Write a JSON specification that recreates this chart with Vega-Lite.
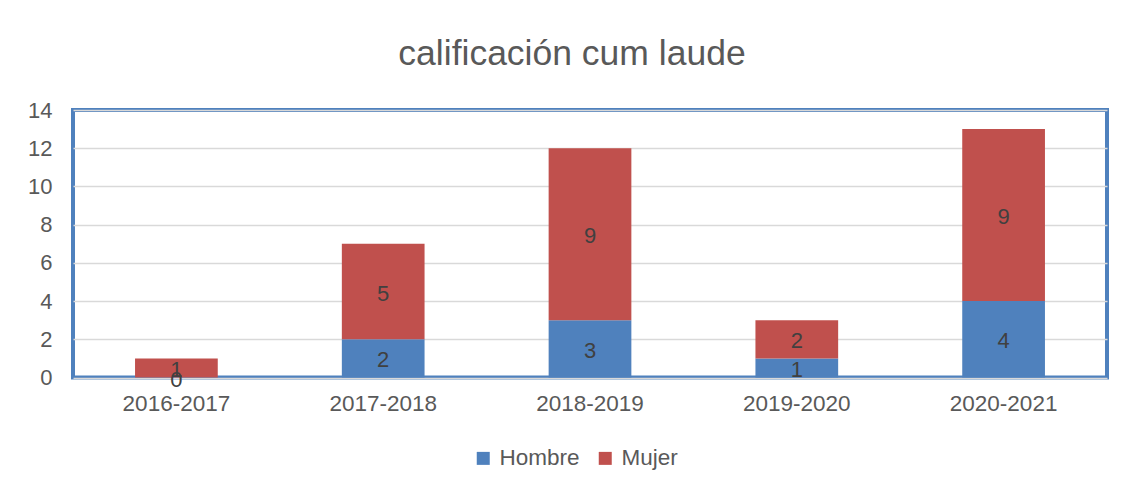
{
  "$schema": "https://vega.github.io/schema/vega-lite/v6.json",
  "autosize": "none",
  "width": 1034,
  "height": 267.5,
  "padding": {"left": 73, "top": 110, "right": 14, "bottom": 108},
  "background": "white",
  "title": {
    "text": "calificación cum laude",
    "font": "Liberation Sans",
    "fontSize": 35.5,
    "fontWeight": "normal",
    "color": "#595959",
    "anchor": "middle",
    "dx": -18,
    "offset": 27
  },
  "config": {
    "font": "Liberation Sans",
    "view": {"stroke": "#4F81BD", "strokeWidth": 4}
  },
  "data": {
    "values": [
      {"year": "2016-2017", "sex": "Hombre", "value": 0},
      {"year": "2016-2017", "sex": "Mujer", "value": 1},
      {"year": "2017-2018", "sex": "Hombre", "value": 2},
      {"year": "2017-2018", "sex": "Mujer", "value": 5},
      {"year": "2018-2019", "sex": "Hombre", "value": 3},
      {"year": "2018-2019", "sex": "Mujer", "value": 9},
      {"year": "2019-2020", "sex": "Hombre", "value": 1},
      {"year": "2019-2020", "sex": "Mujer", "value": 2},
      {"year": "2020-2021", "sex": "Hombre", "value": 4},
      {"year": "2020-2021", "sex": "Mujer", "value": 9}
    ]
  },
  "encoding": {
    "x": {
      "field": "year",
      "type": "nominal",
      "scale": {"paddingInner": 0.6, "paddingOuter": 0.3},
      "axis": {
        "title": null,
        "labelAngle": 0,
        "labelFontSize": 22.5,
        "labelColor": "#595959",
        "labelPadding": 15,
        "labelOverlap": false,
        "ticks": false,
        "domain": false
      }
    }
  },
  "layer": [
    {
      "mark": {"type": "bar"},
      "encoding": {
        "y": {
          "field": "value",
          "type": "quantitative",
          "aggregate": "sum",
          "stack": "zero",
          "scale": {"domain": [0, 14], "nice": false},
          "axis": {
            "title": null,
            "values": [0, 2, 4, 6, 8, 10, 12, 14],
            "tickCount": 8,
            "labelFontSize": 22,
            "labelColor": "#595959",
            "labelPadding": 21,
            "labelOverlap": false,
            "ticks": false,
            "domain": false,
            "gridColor": "#D9D9D9",
            "gridWidth": 1.5
          }
        },
        "color": {
          "field": "sex",
          "type": "nominal",
          "scale": {"domain": ["Hombre", "Mujer"], "range": ["#4F81BD", "#C0504D"]},
          "legend": {
            "title": null,
            "orient": "none",
            "direction": "horizontal",
            "legendX": 399,
            "legendY": 337,
            "symbolType": "square",
            "symbolSize": 169,
            "symbolStrokeWidth": 0,
            "labelFontSize": 22.5,
            "labelColor": "#595959",
            "labelOffset": 5,
            "columnPadding": 14
          }
        },
        "order": {"field": "sex", "type": "nominal", "sort": "ascending"}
      }
    },
    {
      "transform": [
        {"stack": "value", "groupby": ["year"], "sort": [{"field": "sex", "order": "ascending"}], "as": ["y0", "y1"]},
        {"fold": ["y0", "y1"], "as": ["k", "pos"]},
        {"aggregate": [{"op": "mean", "field": "pos", "as": "mid"}, {"op": "max", "field": "value", "as": "value"}], "groupby": ["year", "sex"]}
      ],
      "mark": {"type": "text", "fontSize": 22, "color": "#404040", "baseline": "middle", "dy": 2},
      "encoding": {
        "y": {
          "field": "mid",
          "type": "quantitative",
          "axis": {
            "title": null,
            "values": [0, 2, 4, 6, 8, 10, 12, 14],
            "tickCount": 8,
            "labelFontSize": 22,
            "labelColor": "#595959",
            "labelPadding": 21,
            "labelOverlap": false,
            "ticks": false,
            "domain": false,
            "gridColor": "#D9D9D9",
            "gridWidth": 1.5
          }
        },
        "text": {"field": "value", "type": "quantitative"}
      }
    }
  ]
}
